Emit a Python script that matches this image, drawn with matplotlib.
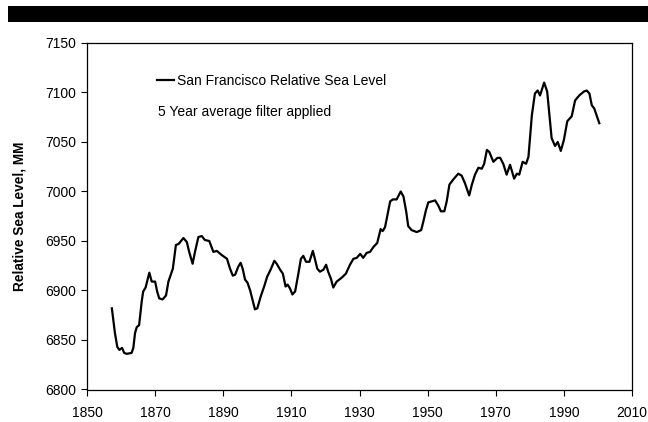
import matplotlib
matplotlib.use("Agg")
import matplotlib.pyplot as plt
from matplotlib.patches import Rectangle

# San Francisco relative sea level, 5-year running mean (mm)
years = [1857.3, 1858.2, 1858.9, 1859.5, 1860.3, 1860.9, 1861.7, 1863.1, 1863.6, 1864.1,
         1864.6, 1865.3, 1866.1, 1866.5, 1867.2, 1868.3, 1869.0, 1870.0, 1870.6, 1871.2,
         1872.2, 1873.2, 1873.9, 1875.2, 1876.1, 1876.9, 1878.3, 1879.3, 1880.0, 1881.0,
         1881.7, 1882.7, 1883.7, 1884.6, 1885.9, 1887.1, 1888.1, 1889.5, 1891.1, 1892.0,
         1892.8, 1893.5, 1894.4, 1895.1, 1895.7, 1896.4, 1897.1, 1897.9, 1898.7, 1899.3,
         1900.0, 1901.0, 1902.0, 1902.9, 1903.9, 1905.0, 1905.7, 1906.7, 1907.5, 1908.3,
         1908.9, 1909.6, 1910.3, 1911.1, 1912.0, 1912.8, 1913.5, 1914.3, 1915.3, 1916.3,
         1916.9, 1917.6, 1918.4, 1919.4, 1920.2, 1920.8, 1921.6, 1922.3, 1923.3, 1924.8,
         1926.0, 1927.2, 1928.2, 1929.2, 1930.2, 1931.1, 1932.1, 1933.1, 1934.1, 1935.2,
         1936.2, 1936.8, 1937.5, 1938.2, 1939.0, 1939.8, 1940.9, 1942.1, 1942.9, 1943.7,
         1944.3, 1945.3, 1946.8, 1948.1, 1948.7, 1949.5, 1950.2, 1951.2, 1952.2, 1953.1,
         1953.9, 1954.9, 1955.6, 1956.4, 1957.5, 1959.0, 1960.0, 1961.0, 1962.2, 1963.0,
         1963.9, 1964.9, 1965.9, 1966.6, 1967.4, 1968.1, 1969.3, 1970.5, 1971.3, 1972.2,
         1973.2, 1974.2, 1975.4, 1976.2, 1976.9, 1977.9, 1978.9, 1979.6, 1980.6, 1981.5,
         1982.3, 1983.0, 1984.2, 1985.1, 1985.7, 1986.4, 1987.4, 1988.2, 1989.1, 1990.0,
         1991.0, 1992.3, 1993.3, 1994.5, 1995.9, 1996.7, 1997.5, 1998.2, 1998.9, 1999.6,
         2000.4]
sea_level = [6882, 6857, 6843, 6840, 6842, 6837, 6836, 6837, 6842, 6857,
             6863, 6865, 6890, 6899, 6903, 6918, 6909, 6909, 6899, 6892,
             6891, 6895, 6909, 6922, 6946, 6947, 6953, 6949, 6939, 6927,
             6939, 6954, 6955, 6951, 6950, 6939, 6940, 6936, 6932, 6922,
             6915, 6916, 6924, 6928, 6922, 6911, 6908, 6900, 6889, 6881,
             6882, 6894, 6904, 6914, 6921, 6930, 6927, 6921, 6917, 6904,
             6906, 6902, 6896, 6899, 6916, 6932, 6935, 6929, 6929, 6940,
             6932, 6922, 6919, 6921, 6926, 6919, 6912, 6903, 6909, 6913,
             6917, 6926, 6932, 6933, 6937, 6933, 6938, 6939, 6944, 6948,
             6962, 6960, 6964, 6976, 6990, 6992, 6992, 7000, 6995, 6980,
             6965, 6961, 6959, 6961, 6969, 6981, 6989, 6990, 6991, 6986,
             6980, 6980, 6990, 7007, 7012, 7018, 7016, 7008, 6996, 7007,
             7017, 7024, 7023, 7028, 7042, 7040, 7030, 7034, 7034, 7028,
             7017, 7027, 7013, 7018, 7017, 7030, 7028, 7035, 7077, 7099,
             7102, 7097, 7110, 7101, 7079, 7054, 7046, 7050, 7041, 7052,
             7071, 7076, 7092, 7097, 7101, 7102, 7099, 7087, 7084, 7077,
             7069]

x_ticks = list(range(1850, 2011, 20))
y_ticks = list(range(6800, 7151, 50))

series_label = "San Francisco Relative Sea Level"
note_text = "5 Year average filter applied"
y_label = "Relative Sea Level, MM"

plt.rcParams["font.family"] = ["Liberation Sans", "DejaVu Sans"]

fig = plt.figure(figsize=(6.48, 4.22), dpi=100)
fig.patch.set_facecolor("white")

# black header band across the top
fig.patches.append(Rectangle((8 / 648, 1 - 22 / 422), 1 - 8 / 648, 16 / 422,
                             transform=fig.transFigure, facecolor="black",
                             edgecolor="none", zorder=0))

ax = fig.add_axes([87 / 648, 1 - 389.5 / 422, 545 / 648, 346.5 / 422])
line, = ax.plot(years, sea_level, color="black", lw=1.6, label=series_label)

ax.set_xlim(1850, 2010)
ax.set_ylim(6800, 7150)
ax.set_xticks(x_ticks)
ax.set_yticks(y_ticks)
ax.tick_params(axis="both", direction="out", length=4, width=0.8,
               labelsize=10, colors="black")
ax.tick_params(axis="x", pad=8)
ax.tick_params(axis="y", pad=4)
ax.tick_params(top=False, right=False)
for sp in ax.spines.values():
    sp.set_linewidth(0.9)
    sp.set_color("black")

ax.set_ylabel(y_label, fontsize=9.8, fontweight="bold", labelpad=13)

ax.legend(handles=[line], loc="center left", bbox_to_anchor=(0.129, 0.89),
          frameon=False, fontsize=10, handlelength=1.2, handletextpad=0.25,
          borderpad=0, borderaxespad=0)
ax.text(0.130, 0.802, note_text, transform=ax.transAxes, fontsize=10,
        va="center", ha="left")

fig.savefig("out.png", dpi=100, facecolor="white")
